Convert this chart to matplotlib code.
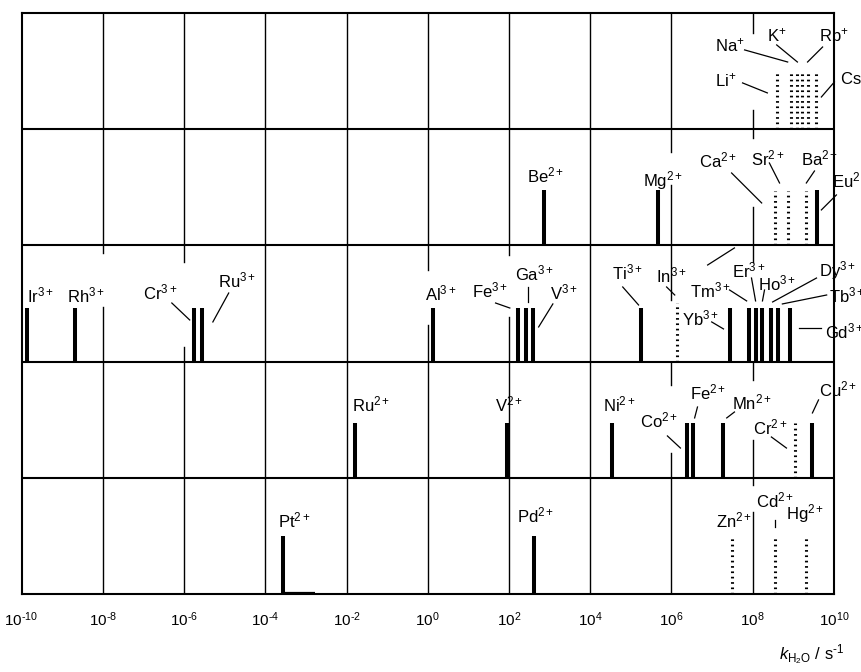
"""Water exchange rate constants of metal ions, one band per ion group"""

import math
import matplotlib
matplotlib.use("Agg")
import matplotlib.pyplot as plt
from matplotlib.ticker import FixedLocator, FuncFormatter, NullLocator

plt.rcParams["font.family"] = ["Liberation Sans", "DejaVu Sans"]
plt.rcParams["mathtext.fontset"] = "custom"
plt.rcParams["mathtext.rm"] = "Liberation Sans"
plt.rcParams["mathtext.it"] = "Liberation Sans:italic"
plt.rcParams["mathtext.bf"] = "Liberation Sans:bold"

# Bands from top to bottom. logk = log10(k_H2O / s^-1), kind: s = single value, d = range
band1_ions = ["Li", "Na", "K", "Rb", "Rb", "Cs"]
band1_logk = [8.59, 8.95, 9.10, 9.22, 9.37, 9.57]
band1_kind = ["d", "d", "d", "d", "d", "d"]

band2_ions = ["Be", "Mg", "Ca", "Sr", "Ba", "Eu"]
band2_logk = [2.85, 5.68, 8.54, 8.86, 9.30, 9.59]
band2_kind = ["s", "s", "d", "d", "d", "s"]

band3_ions = ["Ir", "Rh", "Cr", "Ru", "Al", "Fe", "Ga", "V", "Ti", "In",
              "Yb", "Tm", "Er", "Ho", "Dy", "Tb", "Gd"]
band3_logk = [-9.86, -8.68, -5.76, -5.56, 0.12, 2.21, 2.43, 2.58, 5.26, 6.13,
              7.45, 7.90, 8.09, 8.24, 8.46, 8.61, 8.93]
band3_kind = ["s"] * 9 + ["d"] + ["s"] * 7

band4_ions = ["Ru", "V", "Ni", "Co", "Fe", "Mn", "Cr", "Cu"]
band4_logk = [-1.80, 1.94, 4.53, 6.37, 6.52, 7.26, 9.03, 9.47]
band4_kind = ["s", "s", "s", "s", "s", "s", "d", "s"]

band5_ions = ["Pt", "Pd", "Zn", "Cd", "Hg"]
band5_logk = [-3.57, 2.61, 7.48, 8.54, 9.32]
band5_kind = ["s", "s", "d", "d", "d"]
pt_tail_logk = -2.78  # Pt(II) value given as "at least", drawn as a foot

charges = ["+", "2+", "3+", "2+", "2+"]
tick_exponents = [-10, -8, -6, -4, -2, 0, 2, 4, 6, 8, 10]

bands = [
    (band1_ions, band1_logk, band1_kind),
    (band2_ions, band2_logk, band2_kind),
    (band3_ions, band3_logk, band3_kind),
    (band4_ions, band4_logk, band4_kind),
    (band5_ions, band5_logk, band5_kind),
]

# mark heights (fraction of a band)
solid_h = [0.5, 0.48, 0.46, 0.47, 0.5]
dotted_h = [0.5, 0.47, 0.5, 0.47, 0.5]

# where the decade grid lines are left open behind labels: (exponent, y_low, y_high)
grid_gaps = [
    (8, 4.165, 4.828),
    (6, 3.520, 3.804), (8, 3.330, 3.924),
    (-8, 2.470, 2.935), (-6, 2.126, 2.857), (0, 2.315, 2.788),
    (2, 2.384, 2.917), (6, 2.0, 2.53), (8, 2.0, 2.857),
    (6, 1.213, 1.799), (8, 1.325, 1.842),
    (8, 0.706, 0.938),
]

# label layout: (band, ion, x as log10 k, y in band units, leader line or None)
labels = [
    (0, "Na", 7.06, 4.72, (7.80, 4.682, 8.86, 4.578)),
    (0, "K", 8.34, 4.81, (8.59, 4.725, 9.10, 4.578)),
    (0, "Rb", 9.64, 4.81, (9.72, 4.707, 9.35, 4.578)),
    (0, "Li", 7.06, 4.42, (7.75, 4.398, 8.36, 4.312)),
    (0, "Cs", 10.14, 4.44, (10.01, 4.406, 9.69, 4.277)),
    (1, "Be", 2.44, 3.60, None),
    (1, "Mg", 5.31, 3.56, None),
    (1, "Ca", 6.67, 3.735, (7.48, 3.623, 8.22, 3.365)),
    (1, "Sr", 7.95, 3.744, (8.41, 3.709, 8.66, 3.537)),
    (1, "Ba", 9.18, 3.752, (9.52, 3.640, 9.32, 3.537)),
    (1, "Eu", 9.96, 3.56, (10.06, 3.434, 9.69, 3.305)),
    (2, "Ir", -9.86, 2.573, None),
    (2, "Rh", -8.88, 2.573, None),
    (2, "Cr", -7.01, 2.599, (-6.30, 2.504, -5.86, 2.358)),
    (2, "Ru", -5.17, 2.694, (-4.90, 2.590, -5.29, 2.341)),
    (2, "Al", -0.07, 2.582, None),
    (2, "Fe", 1.08, 2.608, (1.67, 2.504, 2.02, 2.461)),
    (2, "Ga", 2.14, 2.762, (2.46, 2.642, 2.46, 2.513)),
    (2, "V", 3.00, 2.599, (3.08, 2.496, 2.73, 2.298)),
    (2, "Ti", 4.53, 2.771, (4.80, 2.642, 5.19, 2.487)),
    (2, "In", 5.63, 2.745, (5.88, 2.642, 6.08, 2.573)),
    (2, "Tm", 6.45, 2.616, (7.43, 2.616, 7.85, 2.522)),
    (2, "Er", 7.48, 2.788, (7.97, 2.719, 8.07, 2.522)),
    (2, "Ho", 8.12, 2.676, (8.29, 2.616, 8.24, 2.522)),
    (2, "Dy", 9.64, 2.780, (9.57, 2.719, 8.49, 2.513)),
    (2, "Tb", 9.89, 2.565, (9.82, 2.573, 8.73, 2.496)),
    (2, "Yb", 6.25, 2.375, (6.99, 2.341, 7.28, 2.281)),
    (2, "Gd", 9.77, 2.255, (9.15, 2.289, 9.67, 2.289)),
    (3, "Ru", -1.87, 1.627, None),
    (3, "V", 1.65, 1.627, None),
    (3, "Ni", 4.31, 1.627, None),
    (3, "Co", 5.22, 1.497, (5.90, 1.360, 6.22, 1.256)),
    (3, "Fe", 6.45, 1.738, (6.64, 1.609, 6.57, 1.515)),
    (3, "Mn", 7.48, 1.652, (7.55, 1.566, 7.36, 1.515)),
    (3, "Cr", 8.00, 1.429, (8.46, 1.351, 8.83, 1.256)),
    (3, "Cu", 9.62, 1.756, (9.62, 1.670, 9.47, 1.558)),
    (4, "Pt", -3.69, 0.637, None),
    (4, "Pd", 2.19, 0.680, None),
    (4, "Zn", 7.09, 0.637, None),
    (4, "Cd", 8.07, 0.809, (8.54, 0.637, 8.54, 0.577)),
    (4, "Hg", 8.81, 0.688, None),
]
stray_leader = (6.89, 2.831, 7.55, 2.978)


def draw_grid(ax):
    """Decade lines every two decades, broken where the reference leaves gaps."""
    for e in tick_exponents[1:-1]:
        cuts = sorted((lo, hi) for ee, lo, hi in grid_gaps if ee == e)
        y = 0.0
        for lo, hi in cuts:
            ax.plot([10.0 ** e] * 2, [y, lo], color="black", lw=1.0, zorder=0)
            y = hi
        ax.plot([10.0 ** e] * 2, [y, 5.0], color="black", lw=1.0, zorder=0)
    for b in range(1, 5):
        ax.axhline(b, color="black", lw=1.5, zorder=1)
    for s in ax.spines.values():
        s.set_linewidth(1.5)


def draw_bands(ax):
    """Draw one vertical mark per ion, from the bottom of its band."""
    for i, (ions, logk, kind) in enumerate(bands):
        base = 4 - i
        for lk, kd in zip(logk, kind):
            x = 10.0 ** lk
            if kd == "s":
                ax.plot([x, x], [base, base + solid_h[i]], color="black",
                        lw=2.9, solid_capstyle="butt")
            else:
                ax.plot([x, x], [base, base + dotted_h[i]], color="black",
                        lw=2.2, linestyle=(0, (0.55, 1.2)), dash_capstyle="butt")
    # foot on the Pt(II) bar
    ax.plot([10.0 ** band5_logk[0], 10.0 ** pt_tail_logk], [0.01, 0.01],
            color="black", lw=1.6, solid_capstyle="butt")


def draw_labels(ax):
    for band, ion, lx, ly, leader in labels:
        text = ion + r"$^{" + charges[band] + "}$"
        ax.text(10.0 ** lx, ly, text, fontsize=12, ha="left", va="center",
                clip_on=False)
        if leader is not None:
            x0, y0, x1, y1 = leader
            ax.plot([10.0 ** x0, 10.0 ** x1], [y0, y1], color="black", lw=0.9,
                    clip_on=False)
    x0, y0, x1, y1 = stray_leader
    ax.plot([10.0 ** x0, 10.0 ** x1], [y0, y1], color="black", lw=0.9)


def decade_label(x, pos):
    e = int(round(math.log10(x)))
    if e < 0:
        return r"10$^{\text{-}" + str(-e) + "}$"
    return r"10$^{" + str(e) + "}$"


fig = plt.figure(figsize=(8.61, 6.72), dpi=100)
ax = fig.add_axes([0.0250, 0.1161, 0.9436, 0.8646])
ax.set_xscale("log")
ax.set_xlim(1e-10, 1e10)
ax.set_ylim(0, 5)

draw_grid(ax)
draw_bands(ax)
draw_labels(ax)

ax.xaxis.set_major_locator(FixedLocator([10.0 ** e for e in tick_exponents]))
ax.xaxis.set_major_formatter(FuncFormatter(decade_label))
ax.xaxis.set_minor_locator(NullLocator())
ax.tick_params(axis="x", length=0, pad=12, labelsize=11)
ax.set_yticks([])

fig.text(0.943, 0.025, r"$k_{\mathrm{H_2O}}$ / s$^{\text{-}1}$", fontsize=12,
         ha="center", va="center")

fig.savefig("out.png", dpi=100)
